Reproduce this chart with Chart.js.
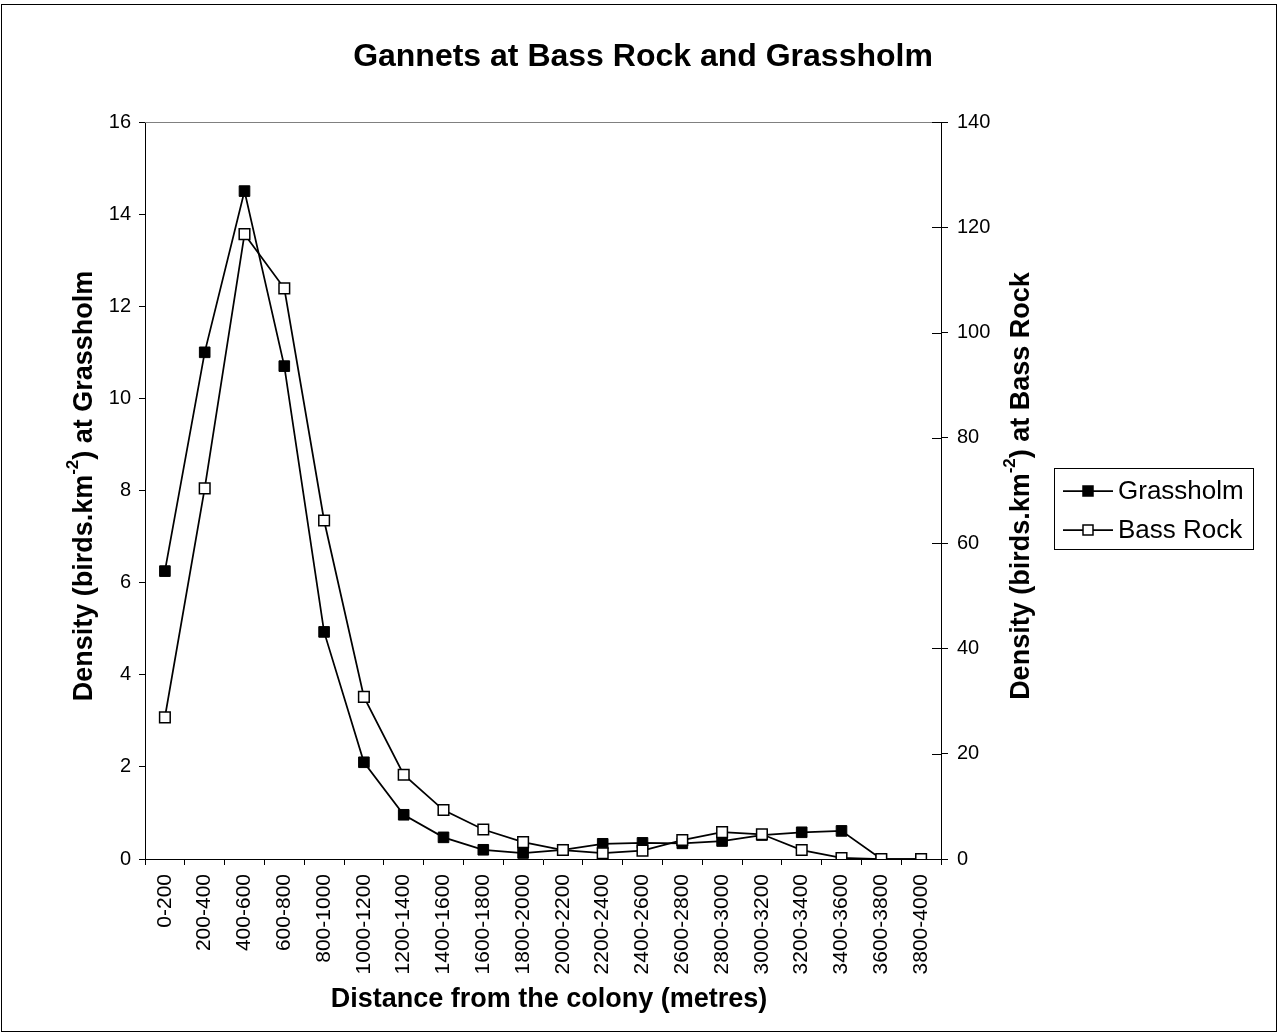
<!DOCTYPE html>
<html>
<head>
<meta charset="utf-8">
<script src="https://cdn.jsdelivr.net/npm/chart.js@4.4.1/dist/chart.umd.min.js"></script>
<style>
  html, body { margin: 0; padding: 0; background: #fff; }
  #wrap { width: 1284px; height: 1036px; }
</style>
</head>
<body>
<div id="wrap"><canvas id="chart" width="1284" height="1036"></canvas></div>
<script>
// distance bands (metres)
const distanceBands = ['0-200', '200-400', '400-600', '600-800', '800-1000', '1000-1200', '1200-1400',
    '1400-1600', '1600-1800', '1800-2000', '2000-2200', '2200-2400', '2400-2600', '2600-2800',
    '2800-3000', '3000-3200', '3200-3400', '3400-3600', '3600-3800', '3800-4000'];

// density, left axis
const grassholm = [6.25, 11.0, 14.5, 10.7, 4.93, 2.1, 0.96, 0.47, 0.2, 0.13,
    0.2, 0.33, 0.35, 0.34, 0.39, 0.52, 0.58, 0.61, 0, 0];

// density, right axis
const bassRock = [26.9, 70.4, 118.7, 108.4, 64.3, 30.8, 16.0, 9.3, 5.6, 3.2,
    1.7, 1.1, 1.6, 3.6, 5.1, 4.7, 1.7, 0.2, 0, 0];

const leftTicks = [0, 2, 4, 6, 8, 10, 12, 14, 16];
const rightTicks = [0, 20, 40, 60, 80, 100, 120, 140];

const FONT = '"Liberation Sans", Arial, sans-serif';

function drawParts(ctx, x, y, rot, parts, size) {
    ctx.save();
    ctx.translate(x, y);
    ctx.rotate(rot);
    ctx.fillStyle = '#000';
    ctx.textBaseline = 'middle';
    ctx.textAlign = 'left';
    let total = 0;
    const widths = parts.map(p => {
        ctx.font = `bold ${p[1] ? Math.round(size * 0.62) : size}px ${FONT}`;
        const w = ctx.measureText(p[0]).width;
        total += w;
        return w;
    });
    let cx = -total / 2;
    parts.forEach((p, i) => {
        ctx.font = `bold ${p[1] ? Math.round(size * 0.62) : size}px ${FONT}`;
        ctx.fillText(p[0], cx, p[1] ? -size * 0.42 : 0);
        cx += widths[i];
    });
    ctx.restore();
}

const extras = {
    id: 'extras',
    afterDraw(chart) {
        const ctx = chart.ctx;
        const area = chart.chartArea;

        // outer frame
        ctx.save();
        ctx.strokeStyle = '#000';
        ctx.lineWidth = 1;
        ctx.strokeRect(1.5, 4.5, 1275, 1027);

        // top edge of plot area
        ctx.strokeStyle = '#808080';
        ctx.beginPath();
        ctx.moveTo(area.left, area.top + 0.5);
        ctx.lineTo(area.right, area.top + 0.5);
        ctx.stroke();

        // inner half of right axis ticks
        const y1 = chart.scales.y1;
        ctx.strokeStyle = '#000';
        ctx.beginPath();
        rightTicks.forEach(v => {
            const py = Math.round(y1.getPixelForValue(v)) + 0.5;
            ctx.moveTo(area.right - 9, py);
            ctx.lineTo(area.right, py);
        });
        ctx.stroke();
        ctx.restore();

        // titles
        drawParts(ctx, 643, 57, 0, [['Gannets at Bass Rock and Grassholm', false]], 32);
        drawParts(ctx, 85, 486, -Math.PI / 2,
            [['Density (birds.km', false], ['-2', true], [') at Grassholm', false]], 27);
        drawParts(ctx, 1022, 486, -Math.PI / 2,
            [['Density (birds.km', false], ['-2', true], [') at Bass Rock', false]], 27);
        drawParts(ctx, 549, 1000, 0, [['Distance from the colony (metres)', false]], 27);

        // legend
        ctx.save();
        ctx.strokeStyle = '#000';
        ctx.lineWidth = 1;
        ctx.strokeRect(1054.5, 468.5, 199, 81);
        const rows = [
            { label: 'Grassholm', y: 491, fill: '#000' },
            { label: 'Bass Rock', y: 530, fill: '#fff' }
        ];
        rows.forEach(r => {
            ctx.strokeStyle = '#000';
            ctx.lineWidth = 1.75;
            ctx.beginPath();
            ctx.moveTo(1063, r.y);
            ctx.lineTo(1113, r.y);
            ctx.stroke();
            ctx.fillStyle = r.fill;
            ctx.lineWidth = 1.5;
            ctx.fillRect(1083, r.y - 5, 10, 10);
            ctx.strokeRect(1083, r.y - 5, 10, 10);
            ctx.fillStyle = '#000';
            ctx.font = `26px ${FONT}`;
            ctx.textBaseline = 'middle';
            ctx.textAlign = 'left';
            ctx.fillText(r.label, 1118, r.y + 1);
        });
        ctx.restore();
    }
};

new Chart(document.getElementById('chart'), {
    type: 'line',
    data: {
        labels: distanceBands,
        datasets: [
            {
                label: 'Grassholm',
                data: grassholm,
                yAxisID: 'y',
                order: 1,
                borderColor: '#000',
                borderWidth: 1.75,
                tension: 0,
                pointStyle: 'rect',
                pointRadius: 7.5,
                pointBackgroundColor: '#000',
                pointBorderColor: '#000',
                pointBorderWidth: 1
            },
            {
                label: 'Bass Rock',
                data: bassRock,
                yAxisID: 'y1',
                order: 0,
                borderColor: '#000',
                borderWidth: 1.75,
                tension: 0,
                pointStyle: 'rect',
                pointRadius: 7.5,
                pointBackgroundColor: '#fff',
                pointBorderColor: '#000',
                pointBorderWidth: 1.5
            }
        ]
    },
    options: {
        responsive: false,
        animation: false,
        devicePixelRatio: 1,
        layout: { padding: { top: 122, left: 0, right: 0, bottom: 0 } },
        plugins: {
            legend: { display: false },
            title: { display: false },
            tooltip: { enabled: false }
        },
        scales: {
            x: {
                offset: true,
                grid: { drawOnChartArea: false, drawTicks: true, tickLength: 6, offset: true, color: '#000' },
                border: { display: true, color: '#000', width: 1 },
                ticks: {
                    autoSkip: false, maxRotation: 90, minRotation: 90, padding: 9,
                    color: '#000', font: { family: FONT, size: 21 }
                },
                afterFit(s) { s.height = 177; }
            },
            y: {
                position: 'left',
                min: 0, max: 16,
                afterBuildTicks(s) { s.ticks = leftTicks.map(v => ({ value: v })); },
                grid: { drawOnChartArea: false, drawTicks: true, tickLength: 6, color: '#000' },
                border: { display: true, color: '#000', width: 1 },
                ticks: { padding: 8, color: '#000', font: { family: FONT, size: 20 } },
                afterFit(s) { s.width = 145; }
            },
            y1: {
                position: 'right',
                min: 0, max: 140,
                afterBuildTicks(s) { s.ticks = rightTicks.map(v => ({ value: v })); },
                grid: { drawOnChartArea: false, drawTicks: true, tickLength: 7, color: '#000' },
                border: { display: true, color: '#000', width: 1 },
                ticks: { padding: 9, color: '#000', font: { family: FONT, size: 20 } },
                afterFit(s) { s.width = 343; }
            }
        }
    },
    plugins: [extras]
});
</script>
</body>
</html>
